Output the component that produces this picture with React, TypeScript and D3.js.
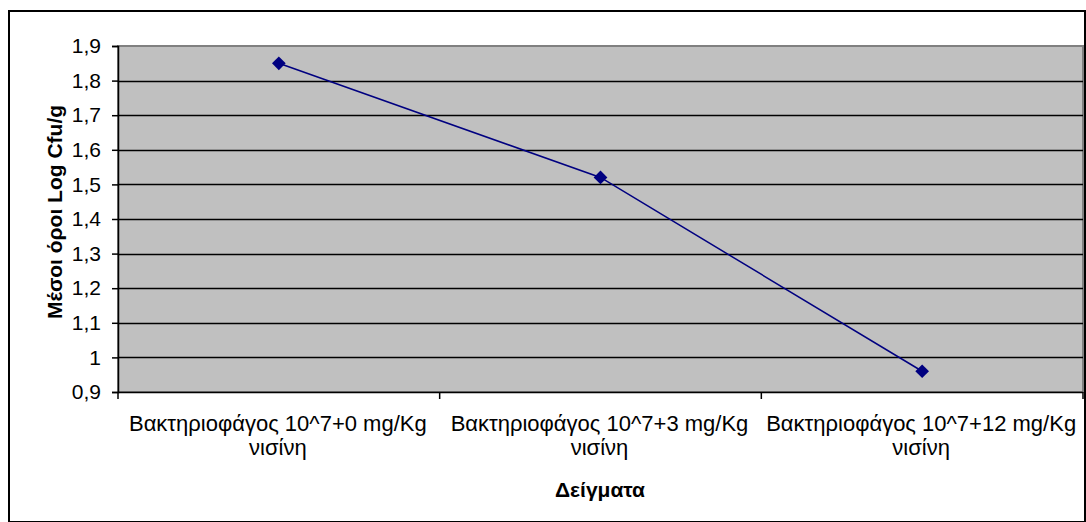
import React, { useRef, useEffect } from 'react';
import * as d3 from 'd3';

// sample labels (two lines each) and mean log values
const categories = ['Βακτηριοφάγος 10^7+0 mg/Kg', 'Βακτηριοφάγος 10^7+3 mg/Kg', 'Βακτηριοφάγος 10^7+12 mg/Kg'];
const categoryLine2 = ['νισίνη', 'νισίνη', 'νισίνη'];
const means = [1.85, 1.52, 0.96];
const yTicks = [0.9, 1, 1.1, 1.2, 1.3, 1.4, 1.5, 1.6, 1.7, 1.8, 1.9];

const W = 1086;
const H = 522;
const FONT = 'Arial, "Liberation Sans", sans-serif';
const FS = 21;

export default function App() {
  const ref = useRef<SVGSVGElement>(null);

  useEffect(() => {
    const svg = d3.select(ref.current);
    svg.selectAll('*').remove();

    const left = 118, right = 1083, top = 46, bottom = 392;

    const x = d3.scaleBand().domain(categories).range([left, right]).padding(0);
    const y = d3.scaleLinear().domain([0.9, 1.9]).range([bottom, top]);

    // outer chart frame
    svg.append('rect')
      .attr('x', 9).attr('y', 11).attr('width', 1076).attr('height', 511)
      .attr('fill', '#fff').attr('stroke', '#000').attr('stroke-width', 2);

    // plot area
    svg.append('rect')
      .attr('x', left).attr('y', top).attr('width', right - left).attr('height', bottom - top)
      .attr('fill', '#c0c0c0').attr('stroke', '#808080').attr('stroke-width', 2);

    // gridlines
    svg.append('g').selectAll('line')
      .data(yTicks.filter(d => d > 0.9 && d < 1.9))
      .enter().append('line')
      .attr('x1', left).attr('x2', right)
      .attr('y1', d => Math.round(y(d)) + 0.5).attr('y2', d => Math.round(y(d)) + 0.5)
      .attr('stroke', '#000').attr('stroke-width', 1.5);

    // y axis
    const yAxis = svg.append('g')
      .attr('transform', `translate(${left},0)`)
      .call(d3.axisLeft(y).tickValues(yTicks).tickSize(6).tickPadding(11)
        .tickFormat(d => d3.format('.1~f')(d as number).replace('.', ',')));
    yAxis.select('.domain').attr('stroke', '#000').attr('stroke-width', 1.5);
    yAxis.selectAll('line').attr('stroke', '#000').attr('stroke-width', 1.5);
    yAxis.selectAll('text').attr('font-size', FS).attr('font-family', FONT).attr('fill', '#000');

    // x axis line and ticks at category boundaries
    svg.append('line')
      .attr('x1', left).attr('x2', right).attr('y1', bottom + 0.5).attr('y2', bottom + 0.5)
      .attr('stroke', '#000').attr('stroke-width', 1.5);
    const bounds = categories.map(c => x(c) as number).concat([right]);
    svg.append('g').selectAll('line')
      .data(bounds).enter().append('line')
      .attr('x1', d => d).attr('x2', d => d)
      .attr('y1', bottom).attr('y2', bottom + 7)
      .attr('stroke', '#000').attr('stroke-width', 1.5);

    // category labels
    const lab = svg.append('g').attr('font-family', FONT).attr('font-size', 22).attr('text-anchor', 'middle');
    categories.forEach((c, i) => {
      const cx = (x(c) as number) + x.bandwidth() / 2 - 1;
      lab.append('text').attr('x', cx).attr('y', 431).text(c);
      lab.append('text').attr('x', cx).attr('y', 455).text(categoryLine2[i]);
    });

    // axis titles
    svg.append('text')
      .attr('x', 600).attr('y', 497)
      .attr('text-anchor', 'middle').attr('font-family', FONT)
      .attr('font-size', FS).attr('font-weight', 'bold').text('Δείγματα');
    svg.append('text')
      .attr('transform', `translate(62,212) rotate(-90)`)
      .attr('text-anchor', 'middle').attr('font-family', FONT)
      .attr('font-size', FS).attr('font-weight', 'bold').text('Μέσοι όροι Log Cfu/g');

    // series line + diamond markers
    const pts = categories.map((c, i) => [(x(c) as number) + x.bandwidth() / 2, y(means[i])] as [number, number]);
    svg.append('path')
      .attr('d', d3.line()(pts))
      .attr('fill', 'none').attr('stroke', '#000080').attr('stroke-width', 1.5);
    svg.append('g').selectAll('path')
      .data(pts).enter().append('path')
      .attr('d', d3.symbol().type(d3.symbolDiamond2).size(120)())
      .attr('transform', d => `translate(${d[0]},${d[1]})`)
      .attr('fill', '#000080');
  }, []);

  return (
    <svg ref={ref} width={W} height={H} style={{ position: 'absolute', left: 0, top: 0, display: 'block' }} />
  );
}
